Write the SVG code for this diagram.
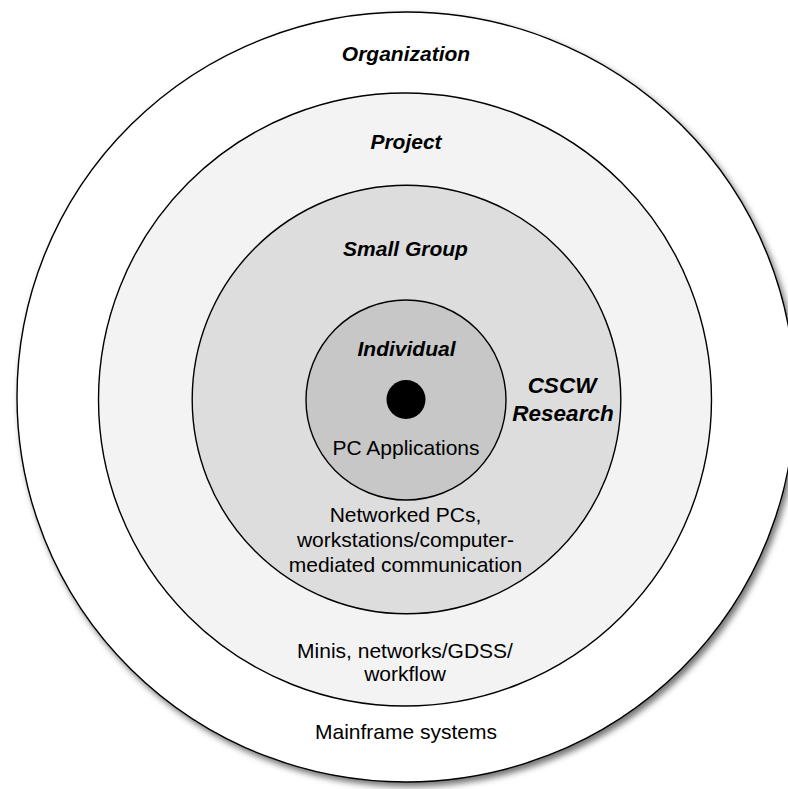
<svg xmlns="http://www.w3.org/2000/svg" width="788" height="789" viewBox="0 0 788 789">
<defs>
<filter id="shadow" x="-10%" y="-10%" width="120%" height="120%">
<feDropShadow dx="3" dy="4" stdDeviation="3" flood-color="#000" flood-opacity="0.55"/>
</filter>
<style>
.ring{stroke:#000;stroke-width:1.4}
.title{font-family:"Liberation Sans",Arial,sans-serif;font-weight:bold;font-style:italic;font-size:21px;text-anchor:middle;fill:#000}
.big{font-size:22.5px}
.label{font-family:"Liberation Sans",Arial,sans-serif;font-size:21px;text-anchor:middle;fill:#000}
</style>
</defs>
<rect width="788" height="789" fill="#fff"/>
<g id="organization">
<ellipse class="ring" cx="406" cy="397" rx="389" ry="385" fill="#fff" filter="url(#shadow)"/>
<text class="title" x="406" y="61">Organization</text>
<text class="label" x="406" y="739">Mainframe systems</text>
</g>
<g id="project">
<circle class="ring" cx="405" cy="399.5" r="306.5" fill="#f3f3f3"/>
<text class="title" x="406" y="149">Project</text>
<text class="label" x="405" y="658">Minis, networks/GDSS/</text>
<text class="label" x="405" y="681">workflow</text>
</g>
<g id="small-group">
<circle class="ring" cx="406.5" cy="399.5" r="214.3" fill="#dddddd"/>
<text class="title" x="405.5" y="256">Small Group</text>
<text class="label" x="405.5" y="522">Networked PCs,</text>
<text class="label" x="405.5" y="547">workstations/computer-</text>
<text class="label" x="405.5" y="572">mediated communication</text>
</g>
<g id="individual">
<circle class="ring" cx="406" cy="400" r="100" fill="#c7c7c7"/>
<text class="title" x="406.5" y="356">Individual</text>
<text class="label" x="406" y="455">PC Applications</text>
</g>
<g id="core">
<circle cx="406" cy="399.5" r="19.5" fill="#000"/>
</g>
<g id="cscw-research">
<text class="title big" x="562" y="393">CSCW</text>
<text class="title big" x="563" y="421">Research</text>
</g>
<g id="connectors"></g>
</svg>
